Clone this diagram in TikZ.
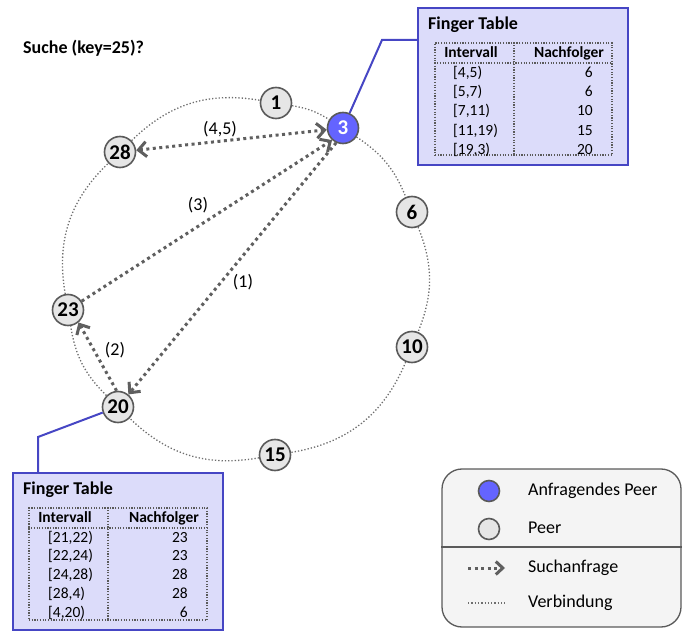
\documentclass[tikz,border=0pt]{standalone}
\usepackage{fontspec}
\setmainfont{Carlito}
\usetikzlibrary{arrows.meta}
\definecolor{peerfill}{HTML}{E6E6E6}
\definecolor{edgegray}{HTML}{5A5A5A}
\definecolor{qblue}{HTML}{6464FF}
\definecolor{ringgray}{HTML}{6E6E6E}
\definecolor{arrgray}{HTML}{5F5F5F}
\definecolor{lav}{HTML}{DCDCFA}
\definecolor{ftblue}{HTML}{4646C4}
\definecolor{legfill}{HTML}{F4F4F4}
\begin{document}
\begin{tikzpicture}[x=1pt,y=1pt,
  peer/.style={circle, draw=edgegray, line width=1.6pt, fill=peerfill, minimum size=31pt, inner sep=0pt, font=\fontsize{21}{21}\selectfont\bfseries},
  query/.style={peer, fill=qblue, text=white},
  ring/.style={draw=ringgray, line width=1.3pt, dash pattern=on 1.3pt off 2pt},
  tip/.style={},
  search/.style={draw=arrgray, line width=3pt, dash pattern=on 3pt off 3.5pt, -{Straight Barb[length=8pt,width=15pt]}},
  ftbox/.style={draw=ftblue, line width=2pt, fill=lav, minimum width=210pt, minimum height=157pt, inner sep=0pt},
  tabbox/.style={draw=edgegray, line width=1.2pt, dash pattern=on 1.2pt off 1.5pt, inner sep=0pt},
  tabline/.style={draw=edgegray, line width=1.2pt, dash pattern=on 1.2pt off 1.5pt},
  conn/.style={draw=ftblue, line width=2pt},
  txt/.style={inner sep=0pt, text height=0.64em, text depth=0pt},
  tabtxt/.style={txt, font=\fontsize{15.5}{15.5}\selectfont},
  tabhead/.style={txt, font=\fontsize{15.5}{15.5}\selectfont\bfseries},
  title/.style={txt, anchor=west, font=\fontsize{18}{18}\selectfont\bfseries},
  lbl/.style={txt, font=\fontsize{18}{18}\selectfont},
  legtxt/.style={txt, anchor=west, font=\fontsize{18}{18}\selectfont}
]
\useasboundingbox (0,0) rectangle (686,633);

% heading
\node[title] (q) at (23,583) {Suche (key=25)?};

% peers
\node[peer]  (n1)  at (276,530) {1};
\node[query] (n3)  at (343,505) {3};
\node[peer]  (n6)  at (412,421) {6};
\node[peer]  (n10) at (412,286) {10};
\node[peer]  (n15) at (275,178) {15};
\node[peer]  (n20) at (118,226) {20};
\node[peer]  (n23) at (68,323)  {23};
\node[peer]  (n28) at (120,481) {28};

% ring
\draw[ring] (n1) to[bend left=11] (n3);
\draw[ring] (n3) to[bend left=17] (n6);
\draw[ring] (n6) to[bend left=22] (n10);
\draw[ring] (n10) to[bend left=29] (n15);
\draw[ring] (n15) to[bend left=27] (n20);
\draw[ring] (n20) to[bend left=18] (n23);
\draw[ring] (n23) to[bend left=28] (n28);
\draw[ring] (n28) to[bend left=27] (n1);

% search requests
\draw[search, {Straight Barb[length=8pt,width=15pt]}-{Straight Barb[length=8pt,width=15pt]}] (n28) -- (n3);
\draw[search] (n23) -- (n3.228);
\draw[search] (n3.245) -- (n20);
\draw[search] (n20.95) -- (n23.310);

\node[lbl] (l45) at (220,502) {(4,5)};
\node[lbl] (l3)  at (198,426) {(3)};
\node[lbl] (l1)  at (243,349) {(1)};
\node[lbl] (l2)  at (115,281) {(2)};

% finger table of peer 3
\node[ftbox] (ft1) at (523,546.5) {};
\node[title] (ft1t) at (428,607) {Finger Table};
\node[tabbox, minimum width=177pt, minimum height=112pt] (tab1) at (523.5,534) {};
\coordinate (h1) at (0,570);
\coordinate (c1) at (514,0);
\draw[tabline] (tab1.west |- h1) -- (tab1.east |- h1);
\draw[tabline] (tab1.north -| c1) -- (tab1.south -| c1);
\node[tabhead] (t1h1) at (471,579) {Intervall};
\node[tabhead] (t1h2) at (569,579) {Nachfolger};
\node[tabtxt, anchor=west] (t1a1) at (453,559) {[4,5)};
\node[tabtxt, anchor=east] (t1b1) at (593,559) {6};
\node[tabtxt, anchor=west] (t1a2) at (453,540) {[5,7)};
\node[tabtxt, anchor=east] (t1b2) at (593,540) {6};
\node[tabtxt, anchor=west] (t1a3) at (453,521) {[7,11)};
\node[tabtxt, anchor=east] (t1b3) at (593,521) {10};
\node[tabtxt, anchor=west] (t1a4) at (453,501) {[11,19)};
\node[tabtxt, anchor=east] (t1b4) at (593,501) {15};
\node[tabtxt, anchor=west] (t1a5) at (453,482) {[19,3)};
\node[tabtxt, anchor=east] (t1b5) at (593,482) {20};
\coordinate (k1) at (382,593);
\draw[conn] (n3.66) -- (k1) -- (k1 -| ft1.west);

% finger table of peer 20
\node[ftbox] (ft2) at (118,81.5) {};
\node[title] (ft2t) at (23,142) {Finger Table};
\node[tabbox, minimum width=178pt, minimum height=112pt] (tab2) at (118,69) {};
\coordinate (h2) at (0,105);
\coordinate (c2) at (108,0);
\draw[tabline] (tab2.west |- h2) -- (tab2.east |- h2);
\draw[tabline] (tab2.north -| c2) -- (tab2.south -| c2);
\node[tabhead] (t2h1) at (65,114) {Intervall};
\node[tabhead] (t2h2) at (164,114) {Nachfolger};
\node[tabtxt, anchor=west] (t2a1) at (48,94) {[21,22)};
\node[tabtxt, anchor=east] (t2b1) at (188,94) {23};
\node[tabtxt, anchor=west] (t2a2) at (48,76) {[22,24)};
\node[tabtxt, anchor=east] (t2b2) at (188,76) {23};
\node[tabtxt, anchor=west] (t2a3) at (48,57) {[24,28)};
\node[tabtxt, anchor=east] (t2b3) at (188,57) {28};
\node[tabtxt, anchor=west] (t2a4) at (48,38) {[28,4)};
\node[tabtxt, anchor=east] (t2b4) at (188,38) {28};
\node[tabtxt, anchor=west] (t2a5) at (48,19) {[4,20)};
\node[tabtxt, anchor=east] (t2b5) at (188,19) {6};
\coordinate (k2) at (38,196);
\draw[conn] (n20.200) -- (k2) -- (k2 |- ft2.north);

% legend
\node[draw=edgegray, line width=1.3pt, fill=legfill, rounded corners=20pt, minimum width=239pt, minimum height=158pt, inner sep=0pt] (leg) at (561.5,85) {};
\coordinate (hs) at (0,86);
\draw[draw=edgegray, line width=1.3pt] (leg.west |- hs) -- (leg.east |- hs);
\node[query, minimum size=21pt] (lq) at (489,142) {};
\node[legtxt] (lqt) at (528,141) {Anfragendes Peer};
\node[peer, minimum size=21pt] (lp) at (489,104) {};
\node[legtxt] (lpt) at (528,103) {Peer};
\coordinate (la1) at (468,65);
\coordinate (la2) at (505,65);
\draw[search, -{Straight Barb[length=7pt,width=13pt]}] (la1) -- (la2);
\node[legtxt] (lat) at (528,64) {Suchanfrage};
\coordinate (lv1) at (468,30);
\coordinate (lv2) at (505,30);
\draw[ring] (lv1) -- (lv2);
\node[legtxt] (lvt) at (528,29) {Verbindung};
\end{tikzpicture}
\end{document}
